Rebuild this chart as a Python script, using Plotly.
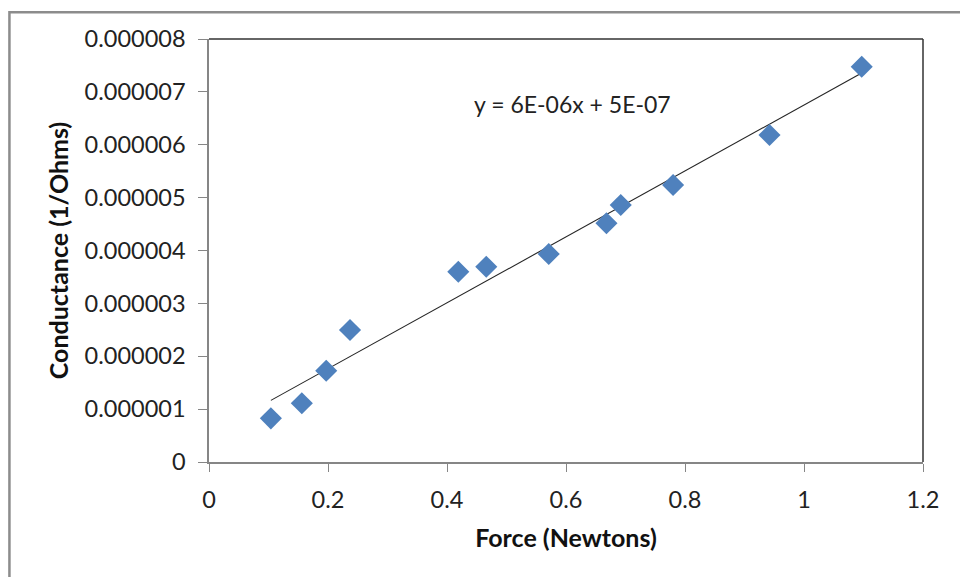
import numpy as np
import plotly.graph_objects as go

# Measured force and conductance pairs
force_n = [0.104, 0.156, 0.197, 0.237, 0.419, 0.466, 0.571, 0.668, 0.692, 0.780, 0.942, 1.097]
conductance = [0.826e-6, 1.110e-6, 1.727e-6, 2.496e-6, 3.599e-6, 3.694e-6,
               3.934e-6, 4.514e-6, 4.861e-6, 5.239e-6, 6.184e-6, 7.476e-6]

x_tick_vals = [0, 0.2, 0.4, 0.6, 0.8, 1.0, 1.2]
x_tick_text = ["0", "0.2", "0.4", "0.6", "0.8", "1", "1.2"]
y_tick_vals = [0, 1e-6, 2e-6, 3e-6, 4e-6, 5e-6, 6e-6, 7e-6, 8e-6]
y_tick_text = ["0", "0.000001", "0.000002", "0.000003", "0.000004",
               "0.000005", "0.000006", "0.000007", "0.000008"]

FONT = "Lato"
AXIS_GREY = "#868686"
MARKER_BLUE = "#4F81BD"

# Linear least-squares trendline over the data range
slope, intercept = np.polyfit(force_n, conductance, 1)
x_fit = np.array([min(force_n), max(force_n)])
y_fit = slope * x_fit + intercept


def excel_sci(v):
    mant, exp = f"{v:.0E}".split("E")
    sign = "-" if exp[0] == "-" else ""
    return f"{mant}E{sign}{abs(int(exp)):02d}"


eq_label = f"y = {excel_sci(slope)}x + {excel_sci(intercept)}"

fig = go.Figure()

fig.add_trace(go.Scatter(
    x=x_fit, y=y_fit, mode="lines",
    line=dict(color="#262626", width=1.1),
    hoverinfo="skip", showlegend=False,
))

fig.add_trace(go.Scatter(
    x=force_n, y=conductance, mode="markers",
    marker=dict(symbol="diamond", size=17, color=MARKER_BLUE,
                line=dict(width=0)),
    showlegend=False,
))

fig.update_layout(
    width=960, height=577,
    margin=dict(l=209, r=37, t=39, b=115),
    paper_bgcolor="white", plot_bgcolor="white",
    font=dict(family=FONT, color="#222222"),
    xaxis=dict(
        range=[0, 1.2], tickvals=x_tick_vals, ticktext=x_tick_text,
        showgrid=False, zeroline=False,
        showline=True, linecolor=AXIS_GREY, linewidth=1.5,
        ticks="outside", ticklen=8, tickcolor=AXIS_GREY, tickwidth=1.2,
        ticklabelstandoff=8,
        tickfont=dict(size=23.5, color="#222222"),
        title=dict(text="<b>Force (Newtons)</b>", font=dict(size=25, color="#111111"),
                   standoff=18),
    ),
    yaxis=dict(
        range=[0, 8e-6], tickvals=y_tick_vals, ticktext=y_tick_text,
        showgrid=False, zeroline=False,
        showline=True, linecolor=AXIS_GREY, linewidth=1.5,
        ticks="outside", ticklen=9, tickcolor=AXIS_GREY, tickwidth=1.2,
        ticklabelstandoff=8,
        tickfont=dict(size=23.5, color="#222222"),
        title=dict(text="<b>Conductance (1/Ohms)</b>", font=dict(size=25, color="#111111"),
                   standoff=9),
    ),
    annotations=[dict(
        x=0.442, y=6.77e-6, xref="x", yref="y", xanchor="left", yanchor="middle",
        text=eq_label, showarrow=False,
        font=dict(size=23, color="#222222", family=FONT),
    )],
    shapes=[
        # outer chart frame
        dict(type="rect", xref="paper", yref="paper",
             x0=-0.2795, y0=-0.4, x1=1.2, y1=1.0635,
             line=dict(color="#8c8c8c", width=2.5), layer="below"),
        # plot area top and right edges
        dict(type="line", xref="paper", yref="paper", x0=0, y0=1, x1=1, y1=1,
             line=dict(color="#333333", width=1.5)),
        dict(type="line", xref="paper", yref="paper", x0=1, y0=0, x1=1, y1=1,
             line=dict(color="#333333", width=1.5)),
    ],
)

fig.write_html("out.html")
